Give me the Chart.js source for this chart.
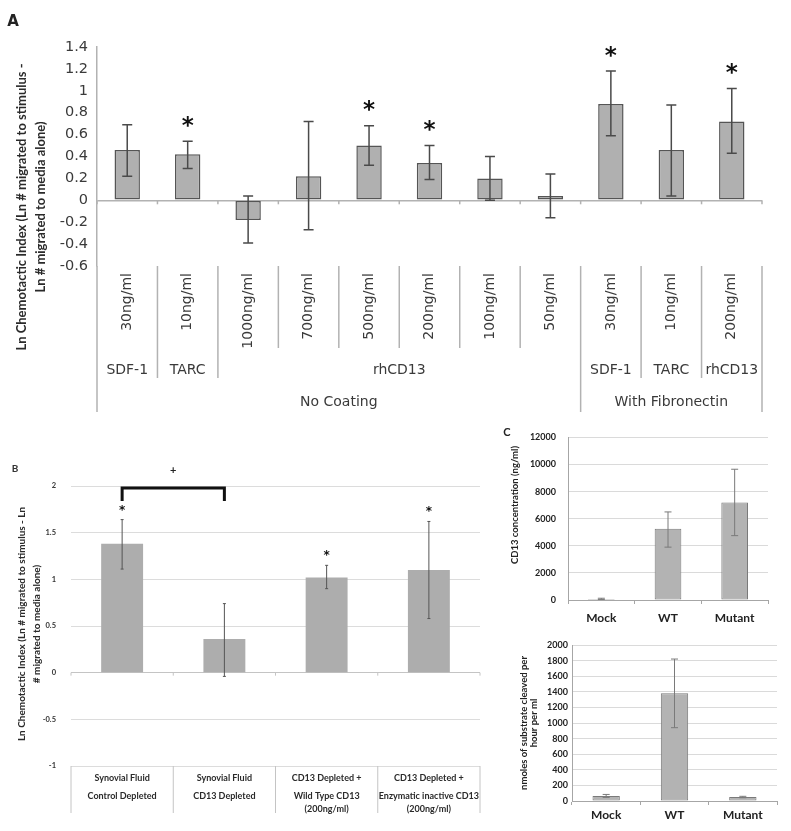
<!DOCTYPE html>
<html>
<head>
<meta charset="utf-8">
<script src="https://cdn.jsdelivr.net/npm/chart.js@4.4.1/dist/chart.umd.min.js"></script>
<style>
  html, body { margin: 0; padding: 0; background: #fff; }
  body { width: 791px; height: 831px; position: relative; overflow: hidden; }
  canvas { position: absolute; }
</style>
</head>
<body>
<canvas id="chartA" width="791" height="425" style="left:0;top:0"></canvas>
<canvas id="chartB" width="500" height="406" style="left:0;top:425px"></canvas>
<canvas id="chartC1" width="291" height="210" style="left:500px;top:420px"></canvas>
<canvas id="chartC2" width="291" height="201" style="left:500px;top:630px"></canvas>
<script>
// ================= DATA =================
// Panel A
const aConcentrations = ['30ng/ml','10ng/ml','1000ng/ml','700ng/ml','500ng/ml','200ng/ml','100ng/ml','50ng/ml','30ng/ml','10ng/ml','200ng/ml'];
const aStimulusGroups = ['SDF-1','TARC','rhCD13','SDF-1','TARC','rhCD13'];
const aStimulusFirst  = [0, 1, 2, 8, 9, 10];
const aStimulusLast   = [0, 1, 7, 8, 9, 10];
const aCoatingGroups  = ['No Coating','With Fibronectin'];
const aCoatingFirst   = [0, 8];
const aCoatingLast    = [7, 10];
const aChemotacticIndex = [0.46, 0.42, -0.18, 0.22, 0.50, 0.34, 0.20, 0.04, 0.88, 0.46, 0.72];
const aErrorHigh        = [0.69, 0.54,  0.04, 0.72, 0.68, 0.50, 0.40, 0.24, 1.18, 0.87, 1.02];
const aErrorLow         = [0.22, 0.29, -0.39,-0.27, 0.32, 0.19, 0.00,-0.16, 0.59, 0.04, 0.43];
const aSignificant      = [false, true, false, false, true, true, false, false, true, false, true];
const aYTickMin = -0.6, aYTickMax = 1.4, aYTickStep = 0.2;
const aYTitle = ['Ln Chemotactic Index (Ln # migrated to stimulus -', 'Ln # migrated to media alone)'];

// Panel B
const bCategories = [
  ['Synovial Fluid', 'Control Depleted'],
  ['Synovial Fluid', 'CD13 Depleted'],
  ['CD13 Depleted +', 'Wild Type CD13', '(200ng/ml)'],
  ['CD13 Depleted +', 'Enzymatic inactive CD13', '(200ng/ml)']
];
const bChemotacticIndex = [1.38, 0.36, 1.02, 1.10];
const bErrorHigh        = [1.64, 0.74, 1.15, 1.62];
const bErrorLow         = [1.11, -0.04, 0.90, 0.58];
const bSignificant      = [true, false, true, true];
const bComparedPair     = [0, 1];
const bYTickMin = -1, bYTickMax = 2, bYTickStep = 0.5;
const bYTitle = ['Ln Chemotactic Index (Ln # migrated to stimulus - Ln', '# migrated to media alone)'];

// Panel C
const cCategories = ['Mock', 'WT', 'Mutant'];
const cConcentration     = [80, 5250, 7200];
const cConcentrationHigh = [130, 6500, 9650];
const cConcentrationLow  = [40, 3900, 4750];
const cConcYTickMax = 12000, cConcYTickStep = 2000;
const cConcTitle = ['CD13 concentration (ng/ml)'];
const cCleaved     = [64, 1380, 51];
const cCleavedHigh = [84, 1820, 60];
const cCleavedLow  = [46, 940, 42];
const cCleavedYTickMax = 2000, cCleavedYTickStep = 200;
const cCleavedTitle = ['nmoles of substrate cleaved per', 'hour per ml'];

// ================= HELPERS =================
const fmt = v => String(Math.round(v * 10) / 10);

function drawRotatedLines(ctx, lines, xs, cy, font, color) {
  ctx.save();
  ctx.font = font; ctx.fillStyle = color;
  ctx.textAlign = 'center'; ctx.textBaseline = 'middle';
  lines.forEach((t, i) => {
    ctx.save(); ctx.translate(xs[i], cy); ctx.rotate(-Math.PI / 2);
    ctx.fillText(t, 0, 0); ctx.restore();
  });
  ctx.restore();
}

function drawStar(ctx, px, cy, font, color) {
  ctx.save();
  ctx.font = font; ctx.fillStyle = color;
  ctx.textAlign = 'center'; ctx.textBaseline = 'alphabetic';
  const m = ctx.measureText('*');
  ctx.fillText('*', px, cy + (m.actualBoundingBoxAscent - m.actualBoundingBoxDescent) / 2);
  ctx.restore();
}

function errorBars(high, low, style) {
  return {
    id: 'errorBars',
    afterDatasetsDraw(chart) {
      const { ctx, scales: { x, y } } = chart;
      ctx.save();
      ctx.strokeStyle = style.color; ctx.lineWidth = style.width;
      high.forEach((h, i) => {
        const px = x.getPixelForValue(i);
        const yh = y.getPixelForValue(h), yl = y.getPixelForValue(low[i]);
        ctx.beginPath();
        ctx.moveTo(px, yh); ctx.lineTo(px, yl);
        if (style.cap) {
          ctx.moveTo(px - style.cap, yh); ctx.lineTo(px + style.cap, yh);
          ctx.moveTo(px - style.cap, yl); ctx.lineTo(px + style.cap, yl);
        }
        ctx.stroke();
      });
      ctx.restore();
    }
  };
}

function categoryEdge(x, i) {
  const half = (x.getPixelForValue(1) - x.getPixelForValue(0)) / 2;
  return x.getPixelForValue(i) - half;
}

const baseOptions = {
  responsive: false,
  animation: false,
  events: [],
  plugins: { legend: { display: false }, tooltip: { enabled: false } }
};

// ================= PANEL A =================
const aDecor = {
  id: 'aDecor',
  afterDraw(chart) {
    const { ctx, chartArea: ca, scales: { x, y } } = chart;
    const n = aConcentrations.length;
    const y0 = y.getPixelForValue(0);
    ctx.save();
    ctx.strokeStyle = '#b2b2b2'; ctx.lineWidth = 1.5;
    for (let i = 0; i <= n; i++) {
      const ex = categoryEdge(x, i);
      ctx.beginPath(); ctx.moveTo(ex, y0); ctx.lineTo(ex, y0 + 4); ctx.stroke();
    }
    const deep = new Set([0, n, ...aCoatingFirst]);
    const mid = new Set([...aStimulusFirst, n]);
    for (let i = 0; i <= n; i++) {
      const ex = categoryEdge(x, i);
      const len = deep.has(i) ? 146 : (mid.has(i) ? 112 : 82);
      ctx.beginPath(); ctx.moveTo(ex, ca.bottom); ctx.lineTo(ex, ca.bottom + len); ctx.stroke();
    }
    ctx.fillStyle = '#3a3a3a'; ctx.font = '14px "DejaVu Sans"';
    ctx.textAlign = 'center'; ctx.textBaseline = 'middle';
    aStimulusGroups.forEach((g, k) => {
      const cx = (x.getPixelForValue(aStimulusFirst[k]) + x.getPixelForValue(aStimulusLast[k])) / 2;
      ctx.fillText(g, cx, ca.bottom + 104);
    });
    aCoatingGroups.forEach((g, k) => {
      const cx = (x.getPixelForValue(aCoatingFirst[k]) + x.getPixelForValue(aCoatingLast[k])) / 2;
      ctx.fillText(g, cx, ca.bottom + 136);
    });
    aSignificant.forEach((s, i) => {
      if (s) drawStar(ctx, x.getPixelForValue(i), y.getPixelForValue(aErrorHigh[i]) - 20, 'bold 23px "DejaVu Sans"', '#111');
    });
    drawRotatedLines(ctx, aYTitle, [22, 41], 207, 'bold 13px Lato', '#2a2a2a');
    ctx.fillStyle = '#222'; ctx.font = 'bold 15px "DejaVu Sans"';
    ctx.textAlign = 'center'; ctx.textBaseline = 'middle';
    ctx.fillText('A', 13, 22);
    ctx.restore();
  }
};

new Chart(document.getElementById('chartA'), {
  type: 'bar',
  data: {
    labels: aConcentrations,
    datasets: [{
      data: aChemotacticIndex,
      backgroundColor: '#b0b0b0',
      borderColor: '#555',
      borderWidth: 1.5,
      borderSkipped: false,
      barPercentage: 0.42,
      categoryPercentage: 1.0
    }]
  },
  options: {
    ...baseOptions,
    layout: { padding: { left: 0, top: 47, right: 29, bottom: 0 } },
    scales: {
      x: {
        afterFit: s => { s.height = 159; },
        grid: { display: false, drawTicks: false },
        border: { display: false },
        ticks: {
          autoSkip: false, minRotation: 90, maxRotation: 90, padding: 7,
          font: { family: 'DejaVu Sans', size: 14 }, color: '#3a3a3a'
        }
      },
      y: {
        min: aYTickMin, max: aYTickMax,
        afterFit: s => { s.width = 97; },
        grid: {
          drawTicks: false, lineWidth: 1.5,
          color: c => Math.abs(c.tick.value) < 1e-9 ? '#b2b2b2' : 'rgba(0,0,0,0)'
        },
        border: { display: true, color: '#b2b2b2', width: 1.5 },
        ticks: {
          stepSize: aYTickStep, padding: 9, callback: fmt,
          font: { family: 'DejaVu Sans', size: 14.5 }, color: '#3a3a3a'
        }
      }
    }
  },
  plugins: [errorBars(aErrorHigh, aErrorLow, { color: '#4a4a4a', width: 1.5, cap: 5 }), aDecor]
});

// ================= PANEL B =================
const bDecor = {
  id: 'bDecor',
  afterDraw(chart) {
    const { ctx, chartArea: ca, scales: { x, y } } = chart;
    const n = bCategories.length;
    const y0 = y.getPixelForValue(0);
    ctx.save();
    ctx.strokeStyle = '#c4c4c4'; ctx.lineWidth = 1;
    for (let i = 0; i <= n; i++) {
      const ex = categoryEdge(x, i);
      ctx.beginPath(); ctx.moveTo(ex, y0); ctx.lineTo(ex, y0 + 3); ctx.stroke();
      ctx.beginPath(); ctx.moveTo(ex, ca.bottom); ctx.lineTo(ex, ca.bottom + 47); ctx.stroke();
    }
    ctx.fillStyle = '#2a2a2a'; ctx.font = 'bold 9px Lato';
    ctx.textAlign = 'center'; ctx.textBaseline = 'middle';
    const offs = [12, 30, 43];
    bCategories.forEach((lines, i) => {
      lines.forEach((t, k) => ctx.fillText(t, x.getPixelForValue(i), ca.bottom + offs[k]));
    });
    bSignificant.forEach((s, i) => {
      if (s) drawStar(ctx, x.getPixelForValue(i), y.getPixelForValue(bErrorHigh[i]) - 12, 'bold 12px "DejaVu Sans"', '#111');
    });
    // significance bracket between compared bars
    const x1 = x.getPixelForValue(bComparedPair[0]), x2 = x.getPixelForValue(bComparedPair[1]);
    const top = y.getPixelForValue(bYTickMax) + 2, legs = y.getPixelForValue(bYTickMax - 0.16);
    ctx.strokeStyle = '#111'; ctx.lineWidth = 3; ctx.lineJoin = 'miter';
    ctx.beginPath(); ctx.moveTo(x1, legs); ctx.lineTo(x1, top); ctx.lineTo(x2, top); ctx.lineTo(x2, legs); ctx.stroke();
    ctx.fillStyle = '#222'; ctx.font = 'bold 11px Lato';
    ctx.fillText('+', (x1 + x2) / 2, y.getPixelForValue(bYTickMax) - 16);
    drawRotatedLines(ctx, bYTitle, [22, 37], 199, 'bold 10px Lato', '#2a2a2a');
    ctx.fillStyle = '#333'; ctx.font = 'bold 10px Lato';
    ctx.fillText('B', 15, 44);
    ctx.restore();
  }
};

new Chart(document.getElementById('chartB'), {
  type: 'bar',
  data: {
    labels: bCategories.map(l => l.join(' ')),
    datasets: [{
      data: bChemotacticIndex,
      backgroundColor: '#adadad',
      borderWidth: 0,
      barPercentage: 0.41,
      categoryPercentage: 1.0
    }]
  },
  options: {
    ...baseOptions,
    layout: { padding: { left: 0, top: 61, right: 20, bottom: 0 } },
    scales: {
      x: {
        afterFit: s => { s.height = 65; },
        grid: { display: false, drawTicks: false },
        border: { display: false },
        ticks: { display: false }
      },
      y: {
        min: bYTickMin, max: bYTickMax,
        afterFit: s => { s.width = 71; },
        grid: {
          drawTicks: false, lineWidth: 1,
          color: c => Math.abs(c.tick.value) < 1e-9 ? '#c4c4c4' : '#dcdcdc'
        },
        border: { display: false },
        ticks: {
          stepSize: bYTickStep, padding: 15, callback: fmt,
          font: { family: 'Lato', size: 7.5, weight: 'bold' }, color: '#333'
        }
      }
    }
  },
  plugins: [errorBars(bErrorHigh, bErrorLow, { color: '#555', width: 1, cap: 1.5 }), bDecor]
});

// ================= PANEL C =================
function cChart(id, values, high, low, yMax, yStep, title, titleXs, titleY, tickPad, labelPad, rightPad, topPad, axisWidth, letter) {
  const decor = {
    id: 'cDecor',
    afterDraw(chart) {
      const { ctx } = chart;
      drawRotatedLines(ctx, title, titleXs, titleY, 'bold 9.5px Lato', '#222');
      if (letter) {
        ctx.save();
        ctx.fillStyle = '#222'; ctx.font = 'bold 11px Lato';
        ctx.textAlign = 'center'; ctx.textBaseline = 'middle';
        ctx.fillText(letter, 7, 12);
        ctx.restore();
      }
    }
  };
  return new Chart(document.getElementById(id), {
    type: 'bar',
    data: {
      labels: cCategories,
      datasets: [{
        data: values,
        backgroundColor: '#b3b3b3',
        borderColor: '#7a7a7a',
        borderWidth: 1,
        borderSkipped: false,
        barPercentage: 0.4,
        categoryPercentage: 1.0
      }]
    },
    options: {
      ...baseOptions,
      layout: { padding: { left: 0, top: topPad, right: rightPad, bottom: 0 } },
      scales: {
        x: {
          afterFit: s => { s.height = 30; },
          grid: { display: true, drawOnChartArea: false, drawTicks: true, tickLength: 4, color: '#a6a6a6', offset: true },
          border: { display: true, color: '#a6a6a6' },
          ticks: { padding: labelPad, font: { family: 'Lato', size: 12, weight: 'bold' }, color: '#222' }
        },
        y: {
          min: 0, max: yMax,
          afterFit: s => { s.width = axisWidth; },
          grid: { drawTicks: false, color: '#dadada' },
          border: { display: true, color: '#a6a6a6' },
          ticks: {
            stepSize: yStep, padding: tickPad, callback: v => String(v),
            font: { family: 'Lato', size: 9, weight: 'bold' }, color: '#222'
          }
        }
      }
    },
    plugins: [errorBars(high, low, { color: '#7a7a7a', width: 1, cap: 3.5 }), decor]
  });
}

cChart('chartC1', cConcentration, cConcentrationHigh, cConcentrationLow, cConcYTickMax, cConcYTickStep,
       cConcTitle, [15], 85, 12, 7, 23, 12, 68, 'C');
cChart('chartC2', cCleaved, cCleavedHigh, cCleavedLow, cCleavedYTickMax, cCleavedYTickStep,
       cCleavedTitle, [24, 34], 93, 4, 3, 14, 15, 72, null);
</script>
</body>
</html>
